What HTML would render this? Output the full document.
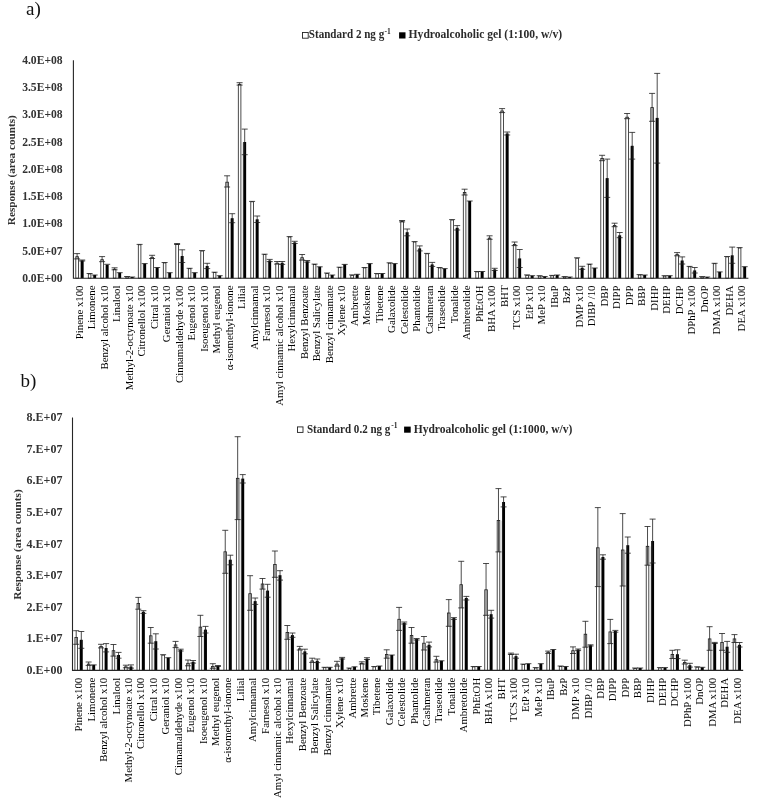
<!DOCTYPE html>
<html lang="en">
<head>
<meta charset="utf-8">
<title>Response of fragrance allergens, musks, preservatives and plasticizers in hydroalcoholic gel</title>
<style>
html,body{margin:0;padding:0;background:#fff;}
body{width:764px;height:808px;overflow:hidden;}
svg{display:block;font-family:"Liberation Serif","Times New Roman",Times,serif;fill:#111;}
.pl{font-size:19px;}
.lg text{font-size:11.5px;font-weight:bold;fill:#2a2a2a;}
.lg text.sup{font-size:7.5px;}
.yt{font-size:11.3px;font-weight:bold;fill:#333;}
.yl text{font-weight:bold;fill:#333;}
.xl text{font-size:10.8px;fill:#000;}
</style>
</head>
<body>
<svg width="764" height="808" viewBox="0 0 764 808">
<rect width="764" height="808" fill="#fff"/>
<text class="pl" x="26" y="14.9">a)</text>
<text class="pl" x="20.6" y="386.8">b)</text>
<g class="lg"><rect x="302.5" y="32.5" width="5.7" height="5.7" fill="#fff" stroke="#222" stroke-width="0.9"/><text x="308.8" y="38.3" textLength="75.4" lengthAdjust="spacingAndGlyphs">Standard 2 ng g</text><text class="sup" x="384.6" y="33.9">-1</text><rect x="399.1" y="32.3" width="6.4" height="6.2" fill="#000"/><text x="408.6" y="38.3" textLength="153.6" lengthAdjust="spacingAndGlyphs">Hydroalcoholic gel (1:100, w/v)</text></g>
<g class="lg"><rect x="297.5" y="426.9" width="5.5" height="5.5" fill="#fff" stroke="#222" stroke-width="0.9"/><text x="306.9" y="432.6" textLength="83.5" lengthAdjust="spacingAndGlyphs">Standard 0.2 ng g</text><text class="sup" x="391.2" y="428.2">-1</text><rect x="404.1" y="426.6" width="6.6" height="6.1" fill="#000"/><text x="413.7" y="432.6" textLength="158.6" lengthAdjust="spacingAndGlyphs">Hydroalcoholic gel (1:1000, w/v)</text></g>
<text class="yt" transform="translate(15.3 170.2) rotate(-90)" text-anchor="middle" textLength="109.9" lengthAdjust="spacingAndGlyphs">Response (area counts)</text>
<text class="yt" transform="translate(21.4 544.5) rotate(-90)" text-anchor="middle" textLength="110.5" lengthAdjust="spacingAndGlyphs">Response (area counts)</text>
<g class="yl" font-size="11.6"><text x="62.6" y="63.9" text-anchor="end">4.0E+08</text><text x="62.6" y="91.14" text-anchor="end">3.5E+08</text><text x="62.6" y="118.37" text-anchor="end">3.0E+08</text><text x="62.6" y="145.61" text-anchor="end">2.5E+08</text><text x="62.6" y="172.85" text-anchor="end">2.0E+08</text><text x="62.6" y="200.09" text-anchor="end">1.5E+08</text><text x="62.6" y="227.32" text-anchor="end">1.0E+08</text><text x="62.6" y="254.56" text-anchor="end">5.0E+07</text><text x="62.6" y="281.8" text-anchor="end">0.0E+00</text></g>
<g class="yl" font-size="12"><text x="62.4" y="421.1" text-anchor="end">8.E+07</text><text x="62.4" y="452.71" text-anchor="end">7.E+07</text><text x="62.4" y="484.33" text-anchor="end">6.E+07</text><text x="62.4" y="515.94" text-anchor="end">5.E+07</text><text x="62.4" y="547.55" text-anchor="end">4.E+07</text><text x="62.4" y="579.16" text-anchor="end">3.E+07</text><text x="62.4" y="610.77" text-anchor="end">2.E+07</text><text x="62.4" y="642.39" text-anchor="end">1.E+07</text><text x="62.4" y="674" text-anchor="end">0.E+00</text></g>
<path d="M80.4 261V278.2M92.9 275.5V278.2M105.4 265.2V278.2M117.9 273.2V278.2M130.4 277.5V278.2M142.9 264.1V278.2M155.4 268V278.2M167.9 273.2V278.2M180.4 256.5V278.2M192.9 273.2V278.2M205.4 266.5V278.2M217.9 276.2V278.2M230.4 218.7V278.2M242.9 142.5V278.2M255.4 219.8V278.2M267.9 261V278.2M280.4 263.3V278.2M292.9 242.9V278.2M305.4 261.8V278.2M317.9 267.3V278.2M330.4 275.5V278.2M342.9 267.7V278.2M355.4 275.4V278.2M367.9 268V278.2M380.4 274V278.2M392.9 264.1V278.2M405.4 232.7V278.2M417.9 248.9V278.2M430.4 264.9V278.2M442.9 269.1V278.2M455.4 228.3V278.2M467.9 201.5V278.2M480.4 272V278.2M492.9 269.9V278.2M505.4 134V278.2M517.9 258.9V278.2M530.4 276.2V278.2M542.9 277V278.2M555.4 275.9V278.2M567.9 277.5V278.2M580.4 268.3V278.2M592.9 268.5V278.2M605.4 178.6V278.2M617.9 235.8V278.2M630.4 146.3V278.2M642.9 275.5V278.2M655.4 118.4V278.2M667.9 276.2V278.2M680.4 261V278.2M692.9 270.9V278.2M705.4 277.5V278.2M717.9 272.4V278.2M730.4 257V278.2M742.9 267.2V278.2" stroke="#c4c4c4" stroke-width="0.7" fill="none"/>
<g fill="#fff" stroke="#1e1e1e" stroke-width="0.8"><rect x="75.8" y="256.7" width="2.6" height="21.5"/><rect x="88.3" y="273.9" width="2.6" height="4.3"/><rect x="100.8" y="259.7" width="2.6" height="18.5"/><rect x="113.3" y="269.2" width="2.6" height="9"/><rect x="125.8" y="276.9" width="2.6" height="1.3"/><rect x="138.3" y="244.8" width="2.6" height="33.4"/><rect x="150.8" y="257.3" width="2.6" height="20.9"/><rect x="163.3" y="262.9" width="2.6" height="15.3"/><rect x="175.8" y="244.4" width="2.6" height="33.8"/><rect x="188.3" y="268.7" width="2.6" height="9.5"/><rect x="200.8" y="251" width="2.6" height="27.2"/><rect x="213.3" y="272.6" width="2.6" height="5.6"/><rect x="225.8" y="182.2" width="2.6" height="96"/><rect x="238.3" y="84.3" width="2.6" height="193.9"/><rect x="250.8" y="201.8" width="2.6" height="76.4"/><rect x="263.3" y="254.6" width="2.6" height="23.6"/><rect x="275.8" y="263.2" width="2.6" height="15"/><rect x="288.3" y="237" width="2.6" height="41.2"/><rect x="300.8" y="257.7" width="2.6" height="20.5"/><rect x="313.3" y="264.5" width="2.6" height="13.7"/><rect x="325.8" y="273.4" width="2.6" height="4.8"/><rect x="338.3" y="267.6" width="2.6" height="10.6"/><rect x="350.8" y="275.3" width="2.6" height="2.9"/><rect x="363.3" y="267.9" width="2.6" height="10.3"/><rect x="375.8" y="273.9" width="2.6" height="4.3"/><rect x="388.3" y="263.2" width="2.6" height="15"/><rect x="400.8" y="221.6" width="2.6" height="56.6"/><rect x="413.3" y="242" width="2.6" height="36.2"/><rect x="425.8" y="253.8" width="2.6" height="24.4"/><rect x="438.3" y="267.9" width="2.6" height="10.3"/><rect x="450.8" y="220" width="2.6" height="58.2"/><rect x="463.3" y="192.5" width="2.6" height="85.7"/><rect x="475.8" y="271.9" width="2.6" height="6.3"/><rect x="488.3" y="238.1" width="2.6" height="40.1"/><rect x="500.8" y="111" width="2.6" height="167.2"/><rect x="513.3" y="244.4" width="2.6" height="33.8"/><rect x="525.8" y="275.3" width="2.6" height="2.9"/><rect x="538.3" y="276.1" width="2.6" height="2.1"/><rect x="550.8" y="275.8" width="2.6" height="2.4"/><rect x="563.3" y="277" width="2.6" height="1.2"/><rect x="575.8" y="258.2" width="2.6" height="20"/><rect x="588.3" y="264.5" width="2.6" height="13.7"/><rect x="600.8" y="158.4" width="2.6" height="119.8"/><rect x="613.3" y="225.5" width="2.6" height="52.7"/><rect x="625.8" y="117.2" width="2.6" height="161"/><rect x="638.3" y="275" width="2.6" height="3.2"/><rect x="650.8" y="107.6" width="2.6" height="170.6"/><rect x="663.3" y="276.1" width="2.6" height="2.1"/><rect x="675.8" y="254.6" width="2.6" height="23.6"/><rect x="688.3" y="266.8" width="2.6" height="11.4"/><rect x="700.8" y="277" width="2.6" height="1.2"/><rect x="713.3" y="263.7" width="2.6" height="14.5"/><rect x="725.8" y="256.9" width="2.6" height="21.3"/><rect x="738.3" y="248" width="2.6" height="30.2"/></g>
<g fill="#000"><rect x="80.75" y="260.5" width="2.9" height="17.7"/><rect x="93.25" y="275" width="2.9" height="3.2"/><rect x="105.75" y="264.7" width="2.9" height="13.5"/><rect x="118.25" y="272.7" width="2.9" height="5.5"/><rect x="130.75" y="277" width="2.9" height="1.2"/><rect x="143.25" y="263.6" width="2.9" height="14.6"/><rect x="155.75" y="267.5" width="2.9" height="10.7"/><rect x="168.25" y="272.7" width="2.9" height="5.5"/><rect x="180.75" y="256" width="2.9" height="22.2"/><rect x="193.25" y="272.7" width="2.9" height="5.5"/><rect x="205.75" y="266" width="2.9" height="12.2"/><rect x="218.25" y="275.7" width="2.9" height="2.5"/><rect x="230.75" y="218.2" width="2.9" height="60"/><rect x="243.25" y="142" width="2.9" height="136.2"/><rect x="255.75" y="219.3" width="2.9" height="58.9"/><rect x="268.25" y="260.5" width="2.9" height="17.7"/><rect x="280.75" y="262.8" width="2.9" height="15.4"/><rect x="293.25" y="242.4" width="2.9" height="35.8"/><rect x="305.75" y="261.3" width="2.9" height="16.9"/><rect x="318.25" y="266.8" width="2.9" height="11.4"/><rect x="330.75" y="275" width="2.9" height="3.2"/><rect x="343.25" y="264.4" width="2.9" height="13.8"/><rect x="355.75" y="274.3" width="2.9" height="3.9"/><rect x="368.25" y="263.6" width="2.9" height="14.6"/><rect x="380.75" y="273.5" width="2.9" height="4.7"/><rect x="393.25" y="263.6" width="2.9" height="14.6"/><rect x="405.75" y="232.2" width="2.9" height="46"/><rect x="418.25" y="248.4" width="2.9" height="29.8"/><rect x="430.75" y="264.4" width="2.9" height="13.8"/><rect x="443.25" y="268.6" width="2.9" height="9.6"/><rect x="455.75" y="227.8" width="2.9" height="50.4"/><rect x="468.25" y="201" width="2.9" height="77.2"/><rect x="480.75" y="271.5" width="2.9" height="6.7"/><rect x="493.25" y="269.4" width="2.9" height="8.8"/><rect x="505.75" y="133.5" width="2.9" height="144.7"/><rect x="518.25" y="258.4" width="2.9" height="19.8"/><rect x="530.75" y="275.7" width="2.9" height="2.5"/><rect x="543.25" y="276.5" width="2.9" height="1.7"/><rect x="555.75" y="275" width="2.9" height="3.2"/><rect x="568.25" y="277" width="2.9" height="1.2"/><rect x="580.75" y="267.8" width="2.9" height="10.4"/><rect x="593.25" y="268" width="2.9" height="10.2"/><rect x="605.75" y="178.1" width="2.9" height="100.1"/><rect x="618.25" y="235.3" width="2.9" height="42.9"/><rect x="630.75" y="145.8" width="2.9" height="132.4"/><rect x="643.25" y="275" width="2.9" height="3.2"/><rect x="655.75" y="117.9" width="2.9" height="160.3"/><rect x="668.25" y="275.7" width="2.9" height="2.5"/><rect x="680.75" y="260.5" width="2.9" height="17.7"/><rect x="693.25" y="270.4" width="2.9" height="7.8"/><rect x="705.75" y="277" width="2.9" height="1.2"/><rect x="718.25" y="271.9" width="2.9" height="6.3"/><rect x="730.75" y="255.3" width="2.9" height="22.9"/><rect x="743.25" y="266.7" width="2.9" height="11.5"/></g>
<path d="M74.1 253.6H80.1M77.1 253.6V258.9M74.1 258.9H80.1M79.2 260H85.2M82.2 260V261M79.2 261H85.2M86.6 273.5H92.6M91.7 275H97.7M99.1 256.6H105.1M102.1 256.6V261.7M99.1 261.7H105.1M104.2 264.3H110.2M111.6 267.8H117.6M114.6 267.8V269.8M111.6 269.8H117.6M116.7 272.7H122.7M124.1 276.5H130.1M129.2 277H135.2M136.6 244.4H142.6M141.7 263.6H147.7M149.1 255.3H155.1M152.1 255.3V258.5M149.1 258.5H155.1M154.2 267.5H160.2M161.6 262.5H167.6M166.7 272.7H172.7M174.1 243.5H180.1M177.1 243.5V244.5M174.1 244.5H180.1M179.2 249.8H185.2M182.2 249.8V262.5M179.2 262.5H185.2M186.6 268.3H192.6M191.7 272.7H197.7M199.1 250.6H205.1M204.2 263.3H210.2M207.2 263.3V268.6M204.2 268.6H210.2M211.6 272.2H217.6M216.7 275.7H222.7M224.1 175.8H230.1M227.1 175.8V187M224.1 187H230.1M229.2 213.7H235.2M232.2 213.7V222.7M229.2 222.7H235.2M236.6 82.7H242.6M239.6 82.7V85.1M236.6 85.1H242.6M241.7 129.1H247.7M244.7 129.1V154.7M241.7 154.7H247.7M249.1 201.4H255.1M254.2 216H260.2M257.2 216V222.5M254.2 222.5H260.2M261.6 254.2H267.6M266.7 259.4H272.7M269.7 259.4V261.6M266.7 261.6H272.7M274.1 261.5H280.1M277.1 261.5V264.1M274.1 264.1H280.1M279.2 261.5H285.2M282.2 261.5V264.4M279.2 264.4H285.2M286.6 236.6H292.6M291.7 241.3H297.7M294.7 241.3V243.5M291.7 243.5H297.7M299.1 254.5H305.1M302.1 254.5V260.1M299.1 260.1H305.1M304.2 260.5H310.2M307.2 260.5V262.1M304.2 262.1H310.2M311.6 264.1H317.6M316.7 266.8H322.7M324.1 273H330.1M329.2 275H335.2M336.6 267.2H342.6M341.7 264.4H347.7M349.1 274.9H355.1M354.2 274.3H360.2M361.6 267.5H367.6M366.7 263.6H372.7M374.1 273.5H380.1M379.2 273.5H385.2M386.6 262.8H392.6M391.7 263.6H397.7M399.1 220.5H405.1M402.1 220.5V221.9M399.1 221.9H405.1M404.2 229H410.2M407.2 229V235.8M404.2 235.8H410.2M411.6 241.6H417.6M416.7 245.9H422.7M419.7 245.9V250.9M416.7 250.9H422.7M424.1 253.4H430.1M429.2 262.4H435.2M432.2 262.4V266.4M429.2 266.4H435.2M436.6 267.5H442.6M441.7 268.6H447.7M449.1 219.6H455.1M454.2 225.6H460.2M457.2 225.6V230M454.2 230H460.2M461.6 189.2H467.6M464.6 189.2V195M461.6 195H467.6M466.7 201H472.7M474.1 271.5H480.1M479.2 271.5H485.2M486.6 235.8H492.6M489.6 235.8V239.3M486.6 239.3H492.6M491.7 268.3H497.7M494.7 268.3V270.5M491.7 270.5H497.7M499.1 108.6H505.1M502.1 108.6V112.6M499.1 112.6H505.1M504.2 132H510.2M507.2 132V135M504.2 135H510.2M511.6 242H517.6M514.6 242V245.6M511.6 245.6H517.6M516.7 249.5H522.7M519.7 249.5V267.5M516.7 267.5H522.7M524.1 274.9H530.1M529.2 275.7H535.2M536.6 275.7H542.6M541.7 276.5H547.7M549.1 275.4H555.1M554.2 275H560.2M561.6 276.6H567.6M566.7 277H572.7M574.1 257.8H580.1M579.2 266.3H585.2M582.2 266.3V269.3M579.2 269.3H585.2M586.6 264.1H592.6M591.7 268H597.7M599.1 155.3H605.1M602.1 155.3V160.7M599.1 160.7H605.1M604.2 159.1H610.2M607.2 159.1V197.4M604.2 197.4H610.2M611.6 223.2H617.6M614.6 223.2V226.7M611.6 226.7H617.6M616.7 232.5H622.7M619.7 232.5V237.7M616.7 237.7H622.7M624.1 113.5H630.1M627.1 113.5V118.7M624.1 118.7H630.1M629.2 132.4H635.2M632.2 132.4V159.1M629.2 159.1H635.2M636.6 274.6H642.6M641.7 275H647.7M649.1 93.4H655.1M652.1 93.4V121.3M649.1 121.3H655.1M654.2 73.4H660.2M657.2 73.4V163.1M654.2 163.1H660.2M661.6 275.7H667.6M666.7 275.7H672.7M674.1 252.6H680.1M677.1 252.6V255.8M674.1 255.8H680.1M679.2 256.9H685.2M682.2 256.9V264M679.2 264H685.2M686.6 266.4H692.6M691.7 267.5H697.7M694.7 267.5V273M691.7 273H697.7M699.1 276.6H705.1M704.2 277H710.2M711.6 263.3H717.6M716.7 271.9H722.7M724.1 256.5H730.1M729.2 247.1H735.2M732.2 247.1V263.3M729.2 263.3H735.2M736.6 247.6H742.6M741.7 266.7H747.7" stroke="#1e1e1e" stroke-width="0.8" fill="none"/>
<path d="M73.4 60.3V278.2H748.4" stroke="#262626" stroke-width="1.1" fill="none"/>
<g class="xl"><text transform="translate(82.6 285.5) rotate(-90)" text-anchor="end">Pinene x100</text><text transform="translate(95.1 285.5) rotate(-90)" text-anchor="end">Limonene</text><text transform="translate(107.6 285.5) rotate(-90)" text-anchor="end">Benzyl alcohol x10</text><text transform="translate(120.1 285.5) rotate(-90)" text-anchor="end">Linalool</text><text transform="translate(132.6 285.5) rotate(-90)" text-anchor="end">Methyl-2-octynoate x10</text><text transform="translate(145.1 285.5) rotate(-90)" text-anchor="end">Citronellol x100</text><text transform="translate(157.6 285.5) rotate(-90)" text-anchor="end">Citral x10</text><text transform="translate(170.1 285.5) rotate(-90)" text-anchor="end">Geraniol x10</text><text transform="translate(182.6 285.5) rotate(-90)" text-anchor="end">Cinnamaldehyde x100</text><text transform="translate(195.1 285.5) rotate(-90)" text-anchor="end">Eugenol x10</text><text transform="translate(207.6 285.5) rotate(-90)" text-anchor="end">Isoeugenol x10</text><text transform="translate(220.1 285.5) rotate(-90)" text-anchor="end">Methyl eugenol</text><text transform="translate(232.6 285.5) rotate(-90)" text-anchor="end">α-isomethyl-ionone</text><text transform="translate(245.1 285.5) rotate(-90)" text-anchor="end">Lilial</text><text transform="translate(257.6 285.5) rotate(-90)" text-anchor="end">Amylcinnamal</text><text transform="translate(270.1 285.5) rotate(-90)" text-anchor="end">Farnesol x10</text><text transform="translate(282.6 285.5) rotate(-90)" text-anchor="end">Amyl cinnamic alcohol x10</text><text transform="translate(295.1 285.5) rotate(-90)" text-anchor="end">Hexylcinnamal</text><text transform="translate(307.6 285.5) rotate(-90)" text-anchor="end">Benzyl Benzoate</text><text transform="translate(320.1 285.5) rotate(-90)" text-anchor="end">Benzyl Salicylate</text><text transform="translate(332.6 285.5) rotate(-90)" text-anchor="end">Benzyl cinnamate</text><text transform="translate(345.1 285.5) rotate(-90)" text-anchor="end">Xylene x10</text><text transform="translate(357.6 285.5) rotate(-90)" text-anchor="end">Ambrette</text><text transform="translate(370.1 285.5) rotate(-90)" text-anchor="end">Moskene</text><text transform="translate(382.6 285.5) rotate(-90)" text-anchor="end">Tibetene</text><text transform="translate(395.1 285.5) rotate(-90)" text-anchor="end">Galaxolide</text><text transform="translate(407.6 285.5) rotate(-90)" text-anchor="end">Celestolide</text><text transform="translate(420.1 285.5) rotate(-90)" text-anchor="end">Phantolide</text><text transform="translate(432.6 285.5) rotate(-90)" text-anchor="end">Cashmeran</text><text transform="translate(445.1 285.5) rotate(-90)" text-anchor="end">Traseolide</text><text transform="translate(457.6 285.5) rotate(-90)" text-anchor="end">Tonalide</text><text transform="translate(470.1 285.5) rotate(-90)" text-anchor="end">Ambretolide</text><text transform="translate(482.6 285.5) rotate(-90)" text-anchor="end">PhEtOH</text><text transform="translate(495.1 285.5) rotate(-90)" text-anchor="end">BHA x100</text><text transform="translate(507.6 285.5) rotate(-90)" text-anchor="end">BHT</text><text transform="translate(520.1 285.5) rotate(-90)" text-anchor="end">TCS x100</text><text transform="translate(532.6 285.5) rotate(-90)" text-anchor="end">EtP x10</text><text transform="translate(545.1 285.5) rotate(-90)" text-anchor="end">MeP x10</text><text transform="translate(557.6 285.5) rotate(-90)" text-anchor="end">IBuP</text><text transform="translate(570.1 285.5) rotate(-90)" text-anchor="end">BzP</text><text transform="translate(582.6 285.5) rotate(-90)" text-anchor="end">DMP x10</text><text transform="translate(595.1 285.5) rotate(-90)" text-anchor="end">DIBP /10</text><text transform="translate(607.6 285.5) rotate(-90)" text-anchor="end">DBP</text><text transform="translate(620.1 285.5) rotate(-90)" text-anchor="end">DIPP</text><text transform="translate(632.6 285.5) rotate(-90)" text-anchor="end">DPP</text><text transform="translate(645.1 285.5) rotate(-90)" text-anchor="end">BBP</text><text transform="translate(657.6 285.5) rotate(-90)" text-anchor="end">DIHP</text><text transform="translate(670.1 285.5) rotate(-90)" text-anchor="end">DEHP</text><text transform="translate(682.6 285.5) rotate(-90)" text-anchor="end">DCHP</text><text transform="translate(695.1 285.5) rotate(-90)" text-anchor="end">DPhP x100</text><text transform="translate(707.6 285.5) rotate(-90)" text-anchor="end">DnOP</text><text transform="translate(720.1 285.5) rotate(-90)" text-anchor="end">DMA x100</text><text transform="translate(732.6 285.5) rotate(-90)" text-anchor="end">DEHA</text><text transform="translate(745.1 285.5) rotate(-90)" text-anchor="end">DEA x100</text></g>
<path d="M79.5 640.3V670.4M91.92 665.4V670.4M104.34 648.5V670.4M116.76 655.5V670.4M129.18 667V670.4M141.6 612.3V670.4M154.02 641.7V670.4M166.44 658.2V670.4M178.86 650.3V670.4M191.28 663.4V670.4M203.7 630.1V670.4M216.12 666.5V670.4M228.54 560.2V670.4M240.96 479.1V670.4M253.38 601.6V670.4M265.8 591.1V670.4M278.22 575.7V670.4M290.64 635.6V670.4M303.06 651.9V670.4M315.48 661.3V670.4M327.9 667.8V670.4M340.32 664.2V670.4M352.74 668.5V670.4M365.16 663.4V670.4M377.58 667V670.4M390 655.5V670.4M402.42 623.3V670.4M414.84 639.5V670.4M427.26 645.3V670.4M439.68 661.3V670.4M452.1 618.6V670.4M464.52 598.5V670.4M476.94 667V670.4M489.36 614.7V670.4M501.78 520.7V670.4M514.2 656.6V670.4M526.62 664.6V670.4M539.04 668.1V670.4M551.46 652.4V670.4M563.88 667V670.4M576.3 650.8V670.4M588.72 645.8V670.4M601.14 557.5V670.4M613.56 632V670.4M625.98 550.1V670.4M638.4 668.5V670.4M650.82 546.4V670.4M663.24 668.1V670.4M675.66 654.7V670.4M688.08 665.7V670.4M700.5 667.8V670.4M712.92 643.4V670.4M725.34 647.2V670.4M737.76 645.3V670.4" stroke="#c4c4c4" stroke-width="0.7" fill="none"/>
<g fill="#fff" stroke="#1e1e1e" stroke-width="0.8"><rect x="74.9" y="637.4" width="2.6" height="33"/><rect x="87.32" y="664.1" width="2.6" height="6.3"/><rect x="99.74" y="646.5" width="2.6" height="23.9"/><rect x="112.16" y="650.7" width="2.6" height="19.7"/><rect x="124.58" y="666.9" width="2.6" height="3.5"/><rect x="137" y="603.6" width="2.6" height="66.8"/><rect x="149.42" y="635.8" width="2.6" height="34.6"/><rect x="161.84" y="655.1" width="2.6" height="15.3"/><rect x="174.26" y="644.9" width="2.6" height="25.5"/><rect x="186.68" y="663.3" width="2.6" height="7.1"/><rect x="199.1" y="627.1" width="2.6" height="43.3"/><rect x="211.52" y="666.4" width="2.6" height="4"/><rect x="223.94" y="551.8" width="2.6" height="118.6"/><rect x="236.36" y="478.3" width="2.6" height="192.1"/><rect x="248.78" y="593.7" width="2.6" height="76.7"/><rect x="261.2" y="584" width="2.6" height="86.4"/><rect x="273.62" y="564.5" width="2.6" height="105.9"/><rect x="286.04" y="632.6" width="2.6" height="37.8"/><rect x="298.46" y="648.8" width="2.6" height="21.6"/><rect x="310.88" y="660.9" width="2.6" height="9.5"/><rect x="323.3" y="667.7" width="2.6" height="2.7"/><rect x="335.72" y="664.1" width="2.6" height="6.3"/><rect x="348.14" y="668.4" width="2.6" height="2"/><rect x="360.56" y="663.3" width="2.6" height="7.1"/><rect x="372.98" y="666.9" width="2.6" height="3.5"/><rect x="385.4" y="654.6" width="2.6" height="15.8"/><rect x="397.82" y="619.3" width="2.6" height="51.1"/><rect x="410.24" y="635.5" width="2.6" height="34.9"/><rect x="422.66" y="643.2" width="2.6" height="27.2"/><rect x="435.08" y="659.7" width="2.6" height="10.7"/><rect x="447.5" y="613" width="2.6" height="57.4"/><rect x="459.92" y="584.7" width="2.6" height="85.7"/><rect x="472.34" y="666.9" width="2.6" height="3.5"/><rect x="484.76" y="589.8" width="2.6" height="80.6"/><rect x="497.18" y="520.6" width="2.6" height="149.8"/><rect x="509.6" y="654.2" width="2.6" height="16.2"/><rect x="522.02" y="664.5" width="2.6" height="5.9"/><rect x="534.44" y="668" width="2.6" height="2.4"/><rect x="546.86" y="652.3" width="2.6" height="18.1"/><rect x="559.28" y="666.4" width="2.6" height="4"/><rect x="571.7" y="650.7" width="2.6" height="19.7"/><rect x="584.12" y="634.2" width="2.6" height="36.2"/><rect x="596.54" y="547.8" width="2.6" height="122.6"/><rect x="608.96" y="631.9" width="2.6" height="38.5"/><rect x="621.38" y="550" width="2.6" height="120.4"/><rect x="633.8" y="668.4" width="2.6" height="2"/><rect x="646.22" y="546.3" width="2.6" height="124.1"/><rect x="658.64" y="668" width="2.6" height="2.4"/><rect x="671.06" y="654.6" width="2.6" height="15.8"/><rect x="683.48" y="662.5" width="2.6" height="7.9"/><rect x="695.9" y="667.2" width="2.6" height="3.2"/><rect x="708.32" y="638.9" width="2.6" height="31.5"/><rect x="720.74" y="642.4" width="2.6" height="28"/><rect x="733.16" y="638.9" width="2.6" height="31.5"/></g>
<g fill="#000"><rect x="79.85" y="639.8" width="2.9" height="30.6"/><rect x="92.27" y="664.9" width="2.9" height="5.5"/><rect x="104.69" y="648" width="2.9" height="22.4"/><rect x="117.11" y="655" width="2.9" height="15.4"/><rect x="129.53" y="666.5" width="2.9" height="3.9"/><rect x="141.95" y="611.8" width="2.9" height="58.6"/><rect x="154.37" y="641.2" width="2.9" height="29.2"/><rect x="166.79" y="657.7" width="2.9" height="12.7"/><rect x="179.21" y="649.8" width="2.9" height="20.6"/><rect x="191.63" y="661.8" width="2.9" height="8.6"/><rect x="204.05" y="629.6" width="2.9" height="40.8"/><rect x="216.47" y="666" width="2.9" height="4.4"/><rect x="228.89" y="559.7" width="2.9" height="110.7"/><rect x="241.31" y="478.6" width="2.9" height="191.8"/><rect x="253.73" y="601.1" width="2.9" height="69.3"/><rect x="266.15" y="590.6" width="2.9" height="79.8"/><rect x="278.57" y="575.2" width="2.9" height="95.2"/><rect x="290.99" y="635.1" width="2.9" height="35.3"/><rect x="303.41" y="651.4" width="2.9" height="19"/><rect x="315.83" y="660.8" width="2.9" height="9.6"/><rect x="328.25" y="667.3" width="2.9" height="3.1"/><rect x="340.67" y="658.2" width="2.9" height="12.2"/><rect x="353.09" y="666.8" width="2.9" height="3.6"/><rect x="365.51" y="658.6" width="2.9" height="11.8"/><rect x="377.93" y="666" width="2.9" height="4.4"/><rect x="390.35" y="655" width="2.9" height="15.4"/><rect x="402.77" y="622.8" width="2.9" height="47.6"/><rect x="415.19" y="639" width="2.9" height="31.4"/><rect x="427.61" y="644.8" width="2.9" height="25.6"/><rect x="440.03" y="660.8" width="2.9" height="9.6"/><rect x="452.45" y="618.1" width="2.9" height="52.3"/><rect x="464.87" y="598" width="2.9" height="72.4"/><rect x="477.29" y="666.5" width="2.9" height="3.9"/><rect x="489.71" y="614.2" width="2.9" height="56.2"/><rect x="502.13" y="502" width="2.9" height="168.4"/><rect x="514.55" y="656.1" width="2.9" height="14.3"/><rect x="526.97" y="663.7" width="2.9" height="6.7"/><rect x="539.39" y="663.7" width="2.9" height="6.7"/><rect x="551.81" y="649.5" width="2.9" height="20.9"/><rect x="564.23" y="666.5" width="2.9" height="3.9"/><rect x="576.65" y="649.5" width="2.9" height="20.9"/><rect x="589.07" y="645.3" width="2.9" height="25.1"/><rect x="601.49" y="557" width="2.9" height="113.4"/><rect x="613.91" y="631" width="2.9" height="39.4"/><rect x="626.33" y="545.2" width="2.9" height="125.2"/><rect x="638.75" y="668" width="2.9" height="2.4"/><rect x="651.17" y="541" width="2.9" height="129.4"/><rect x="663.59" y="667.6" width="2.9" height="2.8"/><rect x="676.01" y="654.2" width="2.9" height="16.2"/><rect x="688.43" y="665.2" width="2.9" height="5.2"/><rect x="700.85" y="667.3" width="2.9" height="3.1"/><rect x="713.27" y="642.9" width="2.9" height="27.5"/><rect x="725.69" y="646.7" width="2.9" height="23.7"/><rect x="738.11" y="644.8" width="2.9" height="25.6"/></g>
<path d="M73.2 630.7H79.2M76.2 630.7V644.3M73.2 644.3H79.2M78.3 631.5H84.3M81.3 631.5V648.3M78.3 648.3H84.3M85.62 662H91.62M88.62 662V665.4M85.62 665.4H91.62M90.72 664.9H96.72M98.04 644.3H104.04M101.04 644.3V647.9M98.04 647.9H104.04M103.14 643.6H109.14M106.14 643.6V651.9M103.14 651.9H109.14M110.46 644.5H116.46M113.46 644.5V656.1M110.46 656.1H116.46M115.56 652.4H121.56M118.56 652.4V658.2M115.56 658.2H121.56M122.88 665.2H128.88M125.88 665.2V667.8M122.88 667.8H128.88M127.98 664.9H133.98M130.98 664.9V668.1M127.98 668.1H133.98M135.3 597.4H141.3M138.3 597.4V609.2M135.3 609.2H141.3M140.4 610.7H146.4M143.4 610.7V613.4M140.4 613.4H146.4M147.72 627.5H153.72M150.72 627.5V643.2M147.72 643.2H153.72M152.82 633.8H158.82M155.82 633.8V649M152.82 649H158.82M160.14 654.7H166.14M165.24 657.7H171.24M172.56 641.4H178.56M175.56 641.4V647.6M172.56 647.6H178.56M177.66 649.2H183.66M180.66 649.2V651M177.66 651H183.66M184.98 660H190.98M187.98 660V665.8M184.98 665.8H190.98M190.08 660.5H196.08M193.08 660.5V663.1M190.08 663.1H196.08M197.4 615.3H203.4M200.4 615.3V636.5M197.4 636.5H203.4M202.5 626.4H208.5M205.5 626.4V633M202.5 633H208.5M209.82 663.7H215.82M212.82 663.7V668.3M209.82 668.3H215.82M214.92 665.5H220.92M217.92 665.5V666.5M214.92 666.5H220.92M222.24 530.3H228.24M225.24 530.3V573.3M222.24 573.3H228.24M227.34 555.2H233.34M230.34 555.2V564.8M227.34 564.8H233.34M234.66 436.7H240.66M237.66 436.7V519.6M234.66 519.6H240.66M239.76 474.6H245.76M242.76 474.6V483M239.76 483H245.76M247.08 575.7H253.08M250.08 575.7V610.3M247.08 610.3H253.08M252.18 598H258.18M255.18 598V604.4M252.18 604.4H258.18M259.5 578.5H265.5M262.5 578.5V589.1M259.5 589.1H265.5M264.6 584.3H270.6M267.6 584.3V597.2M264.6 597.2H270.6M271.92 551H277.92M274.92 551V577.3M271.92 577.3H277.92M277.02 570.7H283.02M280.02 570.7V580.1M277.02 580.1H283.02M284.34 625.5H290.34M287.34 625.5V639.3M284.34 639.3H290.34M289.44 633H295.44M292.44 633V637.3M289.44 637.3H295.44M296.76 646.4H302.76M299.76 646.4V650M296.76 650H302.76M301.86 649.2H307.86M304.86 649.2V653.8M301.86 653.8H307.86M309.18 658.2H315.18M312.18 658.2V662.4M309.18 662.4H315.18M314.28 659H320.28M317.28 659V662.6M314.28 662.6H320.28M321.6 667.3H327.6M326.7 667.3H332.7M334.02 661.3H340.02M337.02 661.3V666.1M334.02 666.1H340.02M339.12 657.4H345.12M342.12 657.4V659M339.12 659H345.12M346.44 668H352.44M351.54 666.8H357.54M358.86 661.8H364.86M361.86 661.8V664M358.86 664H364.86M363.96 657.7H369.96M366.96 657.7V659.5M363.96 659.5H369.96M371.28 666.5H377.28M376.38 666H382.38M383.7 649.8H389.7M386.7 649.8V658.2M383.7 658.2H389.7M388.8 655H394.8M396.12 607.4H402.12M399.12 607.4V630.4M396.12 630.4H402.12M401.22 622H407.22M404.22 622V624M401.22 624H407.22M408.54 627.5H414.54M411.54 627.5V643.2M408.54 643.2H414.54M413.64 638.5H419.64M416.64 638.5V640M413.64 640H419.64M420.96 636.5H426.96M423.96 636.5V650M420.96 650H426.96M426.06 642.1H432.06M429.06 642.1V646.9M426.06 646.9H432.06M433.38 656.3H439.38M436.38 656.3V662.1M433.38 662.1H439.38M438.48 660.8H444.48M445.8 599.6H451.8M448.8 599.6V626.3M445.8 626.3H451.8M450.9 617.6H456.9M453.9 617.6V619.4M450.9 619.4H456.9M458.22 561.3H464.22M461.22 561.3V607.9M458.22 607.9H464.22M463.32 596.4H469.32M466.32 596.4V600M463.32 600H469.32M470.64 666.5H476.64M475.74 666.5H481.74M483.06 563.5H489.06M486.06 563.5V615.3M483.06 615.3H489.06M488.16 610.3H494.16M491.16 610.3V618.1M488.16 618.1H494.16M495.48 488.6H501.48M498.48 488.6V551.9M495.48 551.9H501.48M500.58 496.9H506.58M503.58 496.9V506.9M500.58 506.9H506.58M507.9 653.1H513.9M510.9 653.1V654.5M507.9 654.5H513.9M513 654.2H519M516 654.2V658.2M513 658.2H519M520.32 664.1H526.32M525.42 663.7H531.42M532.74 667.6H538.74M537.84 663.7H543.84M545.16 651.1H551.16M548.16 651.1V653.4M545.16 653.4H551.16M550.26 649.5H556.26M557.58 666H563.58M562.68 666.5H568.68M570 646.9H576M573 646.9V653.5M570 653.5H576M575.1 649H581.1M578.1 649V650.6M575.1 650.6H581.1M582.42 621.3H588.42M585.42 621.3V647.2M582.42 647.2H588.42M587.52 644.8H593.52M590.52 644.8V646M587.52 646H593.52M594.84 507.6H600.84M597.84 507.6V586.6M594.84 586.6H600.84M599.94 554.8H605.94M602.94 554.8V559.2M599.94 559.2H605.94M607.26 619.4H613.26M610.26 619.4V643.6M607.26 643.6H613.26M612.36 630.4H618.36M615.36 630.4V632.2M612.36 632.2H618.36M619.68 513.6H625.68M622.68 513.6V586M619.68 586H625.68M624.78 537H630.78M627.78 537V553.2M624.78 553.2H630.78M632.1 668H638.1M637.2 668H643.2M644.52 526.5H650.52M647.52 526.5V565.2M644.52 565.2H650.52M649.62 519.1H655.62M652.62 519.1V563M649.62 563H655.62M656.94 667.6H662.94M662.04 667.6H668.04M669.36 650.3H675.36M672.36 650.3V658.5M669.36 658.5H675.36M674.46 649.8H680.46M677.46 649.8V658.6M674.46 658.6H680.46M681.78 660.2H687.78M684.78 660.2V664M681.78 664H687.78M686.88 663.3H692.88M689.88 663.3V667.1M686.88 667.1H692.88M694.2 666.8H700.2M699.3 667.3H705.3M706.62 626.7H712.62M709.62 626.7V650.3M706.62 650.3H712.62M711.72 642.4H717.72M714.72 642.4V643.5M711.72 643.5H717.72M719.04 633.5H725.04M722.04 633.5V650.3M719.04 650.3H725.04M724.14 641.4H730.14M727.14 641.4V652.3M724.14 652.3H730.14M731.46 634.6H737.46M734.46 634.6V642.5M731.46 642.5H737.46M736.56 642.5H742.56M739.56 642.5V647M736.56 647H742.56" stroke="#1e1e1e" stroke-width="0.8" fill="none"/>
<path d="M72.5 417.5V670.4H743.18" stroke="#262626" stroke-width="1.1" fill="none"/>
<g class="xl"><text transform="translate(82.31 677.8) rotate(-90)" text-anchor="end">Pinene x100</text><text transform="translate(94.73 677.8) rotate(-90)" text-anchor="end">Limonene</text><text transform="translate(107.15 677.8) rotate(-90)" text-anchor="end">Benzyl alcohol x10</text><text transform="translate(119.57 677.8) rotate(-90)" text-anchor="end">Linalool</text><text transform="translate(131.99 677.8) rotate(-90)" text-anchor="end">Methyl-2-octynoate x10</text><text transform="translate(144.41 677.8) rotate(-90)" text-anchor="end">Citronellol x100</text><text transform="translate(156.83 677.8) rotate(-90)" text-anchor="end">Citral x10</text><text transform="translate(169.25 677.8) rotate(-90)" text-anchor="end">Geraniol x10</text><text transform="translate(181.67 677.8) rotate(-90)" text-anchor="end">Cinnamaldehyde x100</text><text transform="translate(194.09 677.8) rotate(-90)" text-anchor="end">Eugenol x10</text><text transform="translate(206.51 677.8) rotate(-90)" text-anchor="end">Isoeugenol x10</text><text transform="translate(218.93 677.8) rotate(-90)" text-anchor="end">Methyl eugenol</text><text transform="translate(231.35 677.8) rotate(-90)" text-anchor="end">α-isomethyl-ionone</text><text transform="translate(243.77 677.8) rotate(-90)" text-anchor="end">Lilial</text><text transform="translate(256.19 677.8) rotate(-90)" text-anchor="end">Amylcinnamal</text><text transform="translate(268.61 677.8) rotate(-90)" text-anchor="end">Farnesol x10</text><text transform="translate(281.03 677.8) rotate(-90)" text-anchor="end">Amyl cinnamic alcohol x10</text><text transform="translate(293.45 677.8) rotate(-90)" text-anchor="end">Hexylcinnamal</text><text transform="translate(305.87 677.8) rotate(-90)" text-anchor="end">Benzyl Benzoate</text><text transform="translate(318.29 677.8) rotate(-90)" text-anchor="end">Benzyl Salicylate</text><text transform="translate(330.71 677.8) rotate(-90)" text-anchor="end">Benzyl cinnamate</text><text transform="translate(343.13 677.8) rotate(-90)" text-anchor="end">Xylene x10</text><text transform="translate(355.55 677.8) rotate(-90)" text-anchor="end">Ambrette</text><text transform="translate(367.97 677.8) rotate(-90)" text-anchor="end">Moskene</text><text transform="translate(380.39 677.8) rotate(-90)" text-anchor="end">Tibetene</text><text transform="translate(392.81 677.8) rotate(-90)" text-anchor="end">Galaxolide</text><text transform="translate(405.23 677.8) rotate(-90)" text-anchor="end">Celestolide</text><text transform="translate(417.65 677.8) rotate(-90)" text-anchor="end">Phantolide</text><text transform="translate(430.07 677.8) rotate(-90)" text-anchor="end">Cashmeran</text><text transform="translate(442.49 677.8) rotate(-90)" text-anchor="end">Traseolide</text><text transform="translate(454.91 677.8) rotate(-90)" text-anchor="end">Tonalide</text><text transform="translate(467.33 677.8) rotate(-90)" text-anchor="end">Ambretolide</text><text transform="translate(479.75 677.8) rotate(-90)" text-anchor="end">PhEtOH</text><text transform="translate(492.17 677.8) rotate(-90)" text-anchor="end">BHA x100</text><text transform="translate(504.59 677.8) rotate(-90)" text-anchor="end">BHT</text><text transform="translate(517.01 677.8) rotate(-90)" text-anchor="end">TCS x100</text><text transform="translate(529.43 677.8) rotate(-90)" text-anchor="end">EtP x10</text><text transform="translate(541.85 677.8) rotate(-90)" text-anchor="end">MeP x10</text><text transform="translate(554.27 677.8) rotate(-90)" text-anchor="end">IBuP</text><text transform="translate(566.69 677.8) rotate(-90)" text-anchor="end">BzP</text><text transform="translate(579.11 677.8) rotate(-90)" text-anchor="end">DMP x10</text><text transform="translate(591.53 677.8) rotate(-90)" text-anchor="end">DIBP /10</text><text transform="translate(603.95 677.8) rotate(-90)" text-anchor="end">DBP</text><text transform="translate(616.37 677.8) rotate(-90)" text-anchor="end">DIPP</text><text transform="translate(628.79 677.8) rotate(-90)" text-anchor="end">DPP</text><text transform="translate(641.21 677.8) rotate(-90)" text-anchor="end">BBP</text><text transform="translate(653.63 677.8) rotate(-90)" text-anchor="end">DIHP</text><text transform="translate(666.05 677.8) rotate(-90)" text-anchor="end">DEHP</text><text transform="translate(678.47 677.8) rotate(-90)" text-anchor="end">DCHP</text><text transform="translate(690.89 677.8) rotate(-90)" text-anchor="end">DPhP x100</text><text transform="translate(703.31 677.8) rotate(-90)" text-anchor="end">DnOP</text><text transform="translate(715.73 677.8) rotate(-90)" text-anchor="end">DMA x100</text><text transform="translate(728.15 677.8) rotate(-90)" text-anchor="end">DEHA</text><text transform="translate(740.57 677.8) rotate(-90)" text-anchor="end">DEA x100</text></g>
</svg>
</body>
</html>
